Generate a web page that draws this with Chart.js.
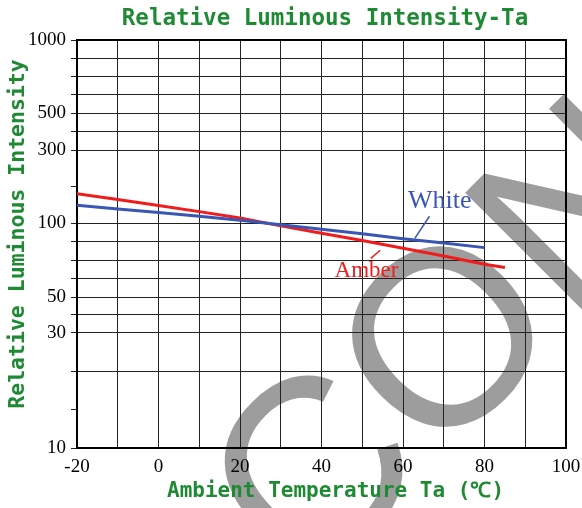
<!DOCTYPE html>
<html>
<head>
<meta charset="utf-8">
<script src="https://cdn.jsdelivr.net/npm/chart.js@4.4.1/dist/chart.umd.min.js"></script>
<style>
  html, body { margin: 0; padding: 0; background: #fff; }
  #wrap { width: 582px; height: 508px; }
</style>
</head>
<body>
<div id="wrap"><canvas id="chart" width="582" height="508"></canvas></div>
<script>
// Data
const temps = [-20, -10, 0, 10, 20, 30, 40, 50, 60, 70, 80];
const whiteValues = [131, 124, 117.5, 111, 104.5, 98.5, 94.5, 90.5, 86.5, 83, 79.5];
const amberTemps = [-20, -10, 0, 10, 20, 30, 40, 50, 60, 70, 80, 85];
const amberValues = [156, 143, 130.5, 119, 108, 97.5, 91, 85, 79, 73.5, 68, 66];
const xTickLabels = [-20, 0, 20, 40, 60, 80, 100];
const yTickLabels = [10, 30, 50, 100, 300, 500, 1000];

const chartTitle = 'Relative Luminous Intensity-Ta';
const xTitle = 'Ambient Temperature Ta (℃)';
const yTitle = 'Relative Luminous Intensity';

const green = '#1f8a34';
const blue = '#3a56b4';
const red = '#f01c1c';

// The printed axis is only roughly logarithmic: each labelled value sits at
// its own height (fraction of the axis), log-interpolated in between.
const yStops = [0, 0.282, 0.370, 0.551, 0.730, 0.821, 1];
const yDivisions = [3, 2, 4, 2, 2, 4];

class PrintedLogScale extends Chart.Scale {
  determineDataLimits() {
    this.min = yTickLabels[0];
    this.max = yTickLabels[yTickLabels.length - 1];
  }
  buildTicks() {
    const ticks = [];
    for (let i = 0; i < yDivisions.length; i++) {
      const v0 = yTickLabels[i], v1 = yTickLabels[i + 1];
      for (let j = 0; j < yDivisions[i]; j++) {
        ticks.push({
          value: v0 * Math.pow(v1 / v0, j / yDivisions[i]),
          // a couple of divisions only get a tick mark, no grid line
          short: (i === 0 && j === 1) || (i === 3 && j === 1)
        });
      }
    }
    ticks.push({ value: this.max });
    return ticks;
  }
  getLabelForValue(v) { return String(v); }
  toDecimal(v) {
    v = Math.min(Math.max(v, this.min), this.max);
    let i = 0;
    while (i < yStops.length - 2 && v > yTickLabels[i + 1]) i++;
    const v0 = yTickLabels[i], v1 = yTickLabels[i + 1];
    const t = Math.log(v / v0) / Math.log(v1 / v0);
    return yStops[i] + (yStops[i + 1] - yStops[i]) * t;
  }
  getPixelForValue(v) { return this.getPixelForDecimal(this.toDecimal(v)); }
  getPixelForTick(i) { return this.getPixelForValue(this.ticks[i].value); }
  getValueForPixel(p) {
    const d = this.getDecimalForPixel(p);
    let i = 0;
    while (i < yStops.length - 2 && d > yStops[i + 1]) i++;
    const t = (d - yStops[i]) / (yStops[i + 1] - yStops[i]);
    return yTickLabels[i] * Math.pow(yTickLabels[i + 1] / yTickLabels[i], t);
  }
}
PrintedLogScale.id = 'printedLog';
PrintedLogScale.defaults = {};
Chart.register(PrintedLogScale);

// Curve labels with their leader lines, in data coordinates
const curveLabels = [
  { text: 'White', color: blue, font: '26px "Liberation Serif"', at: [61.2, 140], line: [[66.5, 111], [62.9, 86.7]] },
  { text: 'Amber', color: red, font: '23px "Liberation Serif"', at: [43.2, 64], line: [[54.4, 77.6], [52.1, 71.9]] }
];

const watermark = {
  id: 'watermark',
  beforeDraw(chart) {
    const ctx = chart.ctx;
    ctx.save();
    ctx.translate(307, 594);
    ctx.rotate(-45 * Math.PI / 180);
    ctx.font = '250px "Liberation Sans"';
    ctx.fillStyle = '#9d9d9d';
    ctx.fillText('CON', 0, 0);
    ctx.restore();
  }
};

const frame = {
  id: 'frame',
  beforeDatasetsDraw(chart) {
    const { ctx, chartArea: a } = chart;
    ctx.save();
    ctx.strokeStyle = '#000';
    ctx.lineWidth = 2;
    ctx.strokeRect(a.left, a.top, a.right - a.left, a.bottom - a.top);
    ctx.restore();
  }
};

const texts = {
  id: 'texts',
  afterDraw(chart) {
    const { ctx, chartArea: a, scales } = chart;
    ctx.save();
    ctx.fillStyle = green;
    ctx.textBaseline = 'middle';
    ctx.textAlign = 'center';
    ctx.font = 'bold 22.5px "DejaVu Sans Mono"';
    ctx.fillText(chartTitle, a.left + 248, a.top - 21);
    ctx.font = 'bold 21px "DejaVu Sans Mono"';
    ctx.textAlign = 'left';
    ctx.fillText(xTitle, a.left + 90, a.bottom + 44);
    ctx.save();
    ctx.translate(18, a.top + 194);
    ctx.rotate(-Math.PI / 2);
    ctx.textAlign = 'center';
    ctx.font = 'bold 21.5px "DejaVu Sans Mono"';
    ctx.fillText(yTitle, 0, 0);
    ctx.restore();

    curveLabels.forEach(l => {
      ctx.fillStyle = l.color;
      ctx.strokeStyle = l.color;
      ctx.font = l.font;
      ctx.textAlign = 'left';
      ctx.fillText(l.text, scales.x.getPixelForValue(l.at[0]), scales.y.getPixelForValue(l.at[1]));
      ctx.lineWidth = 1.5;
      ctx.beginPath();
      ctx.moveTo(scales.x.getPixelForValue(l.line[0][0]), scales.y.getPixelForValue(l.line[0][1]));
      ctx.lineTo(scales.x.getPixelForValue(l.line[1][0]), scales.y.getPixelForValue(l.line[1][1]));
      ctx.stroke();
    });
    ctx.restore();
  }
};

new Chart(document.getElementById('chart'), {
  type: 'line',
  data: {
    datasets: [
      {
        label: 'White',
        data: temps.map((t, i) => ({ x: t, y: whiteValues[i] })),
        borderColor: blue,
        borderWidth: 3
      },
      {
        label: 'Amber',
        data: amberTemps.map((t, i) => ({ x: t, y: amberValues[i] })),
        borderColor: red,
        borderWidth: 3
      }
    ]
  },
  options: {
    responsive: false,
    animation: false,
    layout: { padding: { top: 40, right: 16, left: 0, bottom: 0 } },
    elements: { point: { radius: 0 }, line: { tension: 0 } },
    plugins: {
      legend: { display: false },
      tooltip: { enabled: false },
      title: { display: false }
    },
    scales: {
      x: {
        type: 'linear',
        min: -20,
        max: 100,
        afterFit: s => { s.height = 60; s.paddingLeft = 0; s.paddingRight = 0; },
        border: { display: false },
        grid: { color: '#222', lineWidth: 1, drawTicks: false },
        ticks: {
          stepSize: 10,
          autoSkip: false,
          maxRotation: 0,
          padding: 8,
          color: '#000',
          font: { family: 'Liberation Serif', size: 19 },
          callback: v => xTickLabels.includes(v) ? String(v) : ''
        }
      },
      y: {
        type: 'printedLog',
        afterFit: s => { s.width = 77; s.paddingTop = 0; s.paddingBottom = 0; },
        border: { display: false },
        grid: {
          color: c => (c.tick && c.tick.short) ? 'rgba(0,0,0,0)' : '#222',
          tickColor: '#222',
          tickLength: 6,
          lineWidth: 1
        },
        ticks: {
          autoSkip: false,
          padding: 5,
          color: '#000',
          font: { family: 'Liberation Serif', size: 19 },
          callback: v => yTickLabels.includes(v) ? String(v) : ''
        }
      }
    }
  },
  plugins: [watermark, frame, texts]
});
</script>
</body>
</html>
